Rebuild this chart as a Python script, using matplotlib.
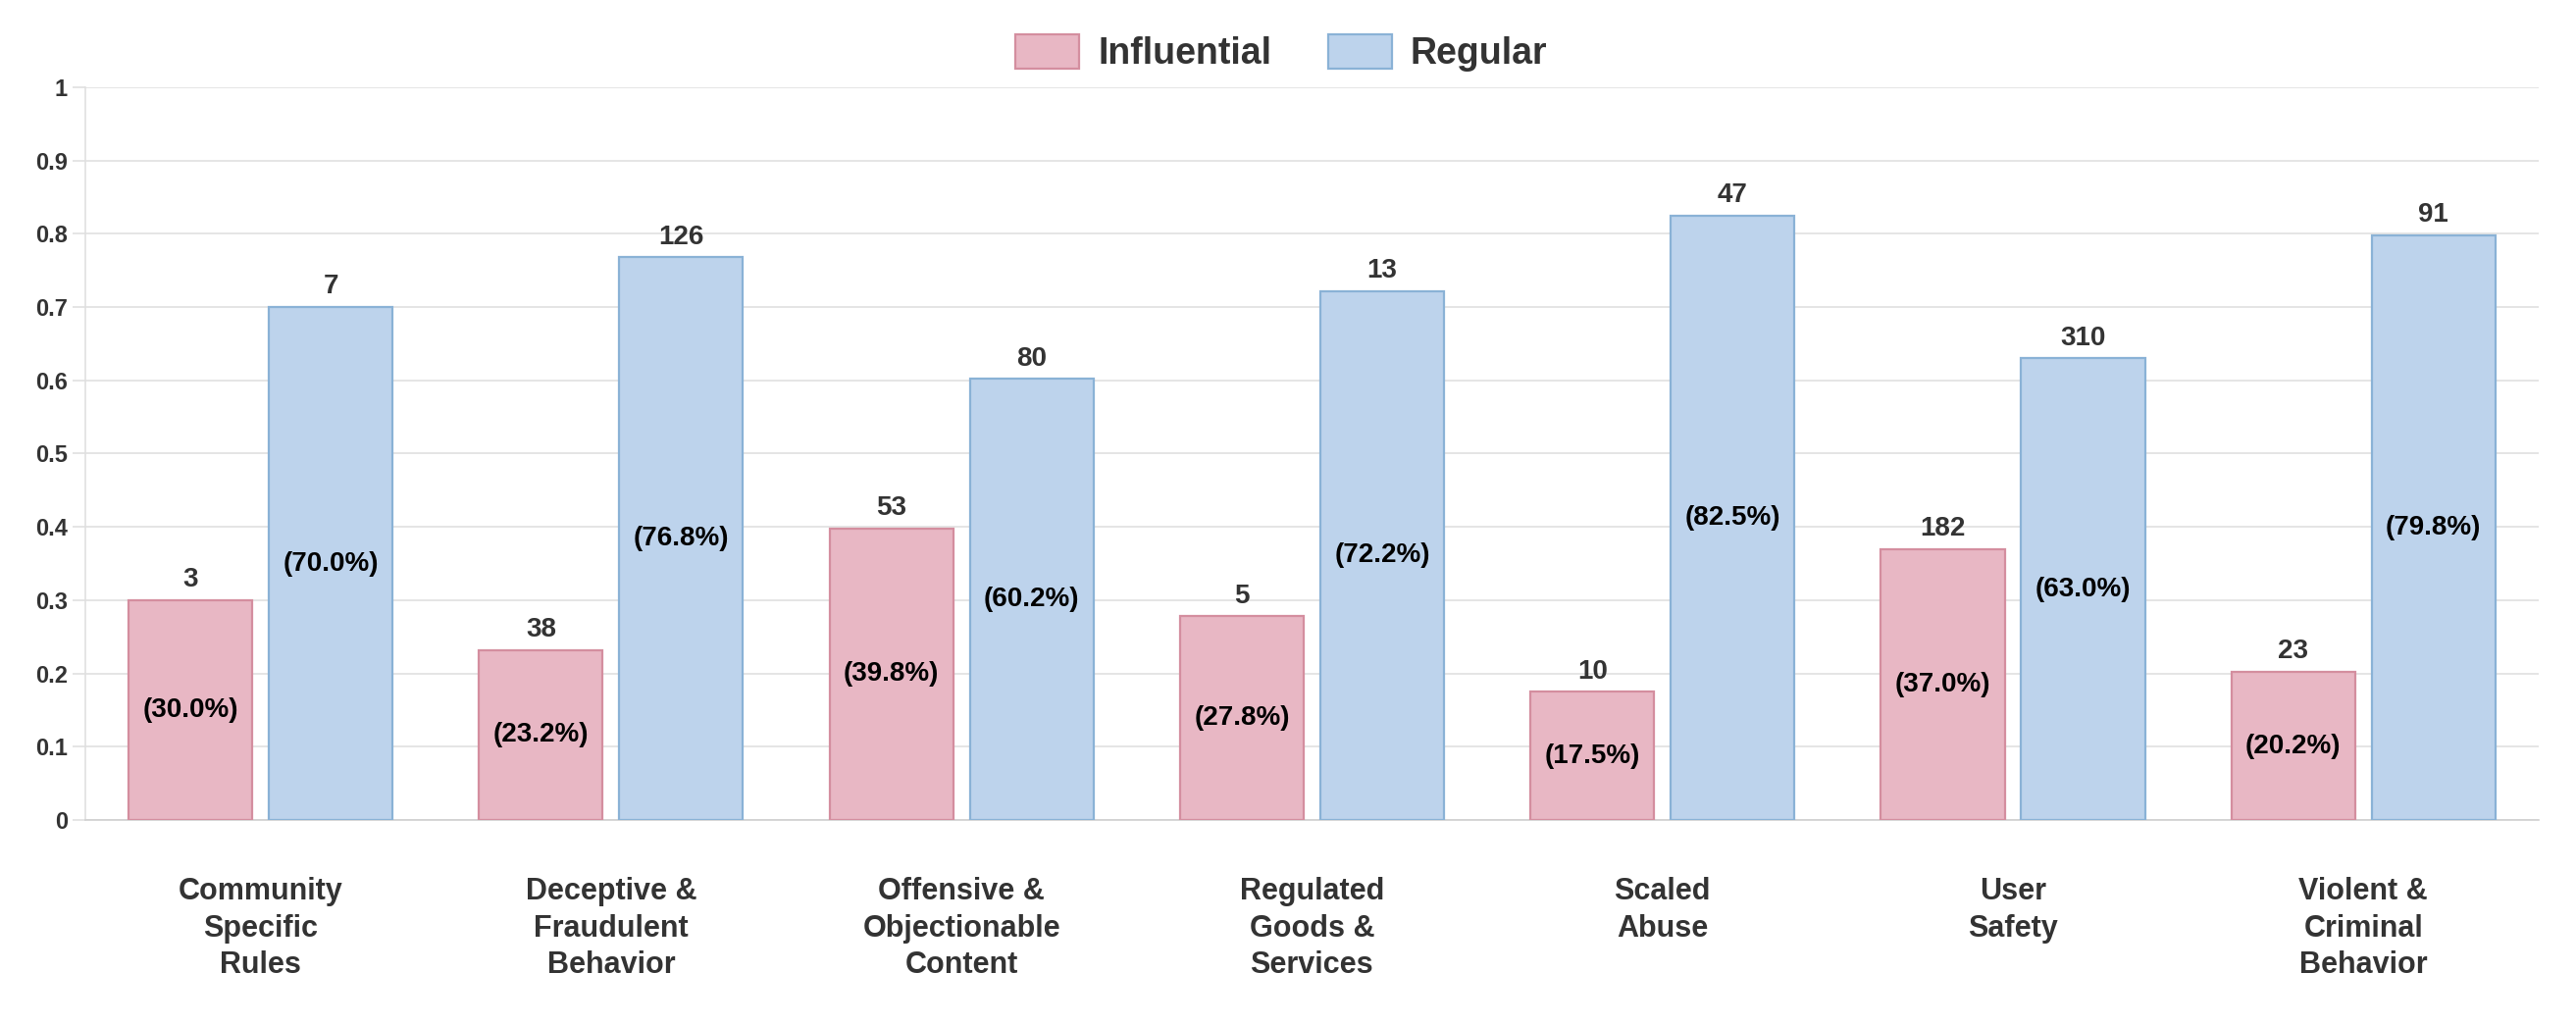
import matplotlib
matplotlib.use("Agg")
import matplotlib.pyplot as plt
import numpy as np

categories = ["Community\nSpecific\nRules", "Deceptive &\nFraudulent\nBehavior",
              "Offensive &\nObjectionable\nContent", "Regulated\nGoods &\nServices",
              "Scaled\nAbuse", "User\nSafety", "Violent &\nCriminal\nBehavior"]
influential_counts = [3, 38, 53, 5, 10, 182, 23]
regular_counts = [7, 126, 80, 13, 47, 310, 91]
influential_pct = [30.0, 23.2, 39.8, 27.8, 17.5, 37.0, 20.2]
regular_pct = [70.0, 76.8, 60.2, 72.2, 82.5, 63.0, 79.8]
yticks = [0, 0.1, 0.2, 0.3, 0.4, 0.5, 0.6, 0.7, 0.8, 0.9, 1]
ytick_labels = ["0", "0.1", "0.2", "0.3", "0.4", "0.5", "0.6", "0.7", "0.8", "0.9", "1"]

plt.rcParams['font.family'] = ['Liberation Sans', 'DejaVu Sans']

fig = plt.figure(figsize=(26.26, 10.44), dpi=100)
ax = fig.add_axes([0.0331, 0.1992, 0.9524, 0.7156])

x = np.arange(len(categories))
w = 0.353
off = 0.2
pink_fill, pink_edge = "#E8B7C4", "#D48E9F"
blue_fill, blue_edge = "#BDD3EC", "#8AB2D6"

inf_h = [p / 100 for p in influential_pct]
reg_h = [p / 100 for p in regular_pct]
b1 = ax.bar(x - off, inf_h, w, color=pink_fill, edgecolor=pink_edge, linewidth=1.6,
            label="Influential", zorder=3)
b2 = ax.bar(x + off, reg_h, w, color=blue_fill, edgecolor=blue_edge, linewidth=1.6,
            label="Regular", zorder=3)

for xi, h, c, p in zip(x - off, inf_h, influential_counts, influential_pct):
    ax.annotate(str(c), (xi, h), xytext=(0, 5.5), textcoords="offset points",
                ha="center", va="bottom", fontsize=20, fontweight="bold", color="#333333")
    ax.text(xi, h / 2, f"({p:.1f}%)", ha="center", va="center", fontsize=20,
            fontweight="bold", color="black", zorder=4)
for xi, h, c, p in zip(x + off, reg_h, regular_counts, regular_pct):
    ax.annotate(str(c), (xi, h), xytext=(0, 5.5), textcoords="offset points",
                ha="center", va="bottom", fontsize=20, fontweight="bold", color="#333333")
    ax.text(xi, h / 2, f"({p:.1f}%)", ha="center", va="center", fontsize=20,
            fontweight="bold", color="black", zorder=4)

ax.set_xlim(-0.5, len(categories) - 0.5)
ax.set_ylim(0, 1)
ax.set_yticks(yticks)
ax.set_yticklabels(ytick_labels)
ax.set_xticks(x)
ax.set_xticklabels(categories, fontsize=22, fontweight="bold", color="#333333",
                   linespacing=1.32)
ax.tick_params(axis="x", length=0, pad=42)
ax.tick_params(axis="y", length=9.4, width=1.2, color="#E0E0E0", pad=3.6,
               labelsize=17, labelcolor="#333333")
for lab in ax.get_yticklabels():
    lab.set_fontweight("bold")

ax.grid(axis="y", color="#E0E0E0", linewidth=1.2, zorder=0)
ax.set_axisbelow(True)
for s in ["top", "right"]:
    ax.spines[s].set_visible(False)
ax.spines["left"].set_color("#E0E0E0")
ax.spines["left"].set_linewidth(1.2)
ax.spines["bottom"].set_color("#D0D0D0")
ax.spines["bottom"].set_linewidth(1.2)

leg = fig.legend(handles=[b1, b2], labels=["Influential", "Regular"], loc="center",
                 bbox_to_anchor=(0.4975, 0.948), ncol=2, frameon=False,
                 prop={"size": 27, "weight": "bold"}, handlelength=1.73,
                 handleheight=1.07, handletextpad=0.5, columnspacing=1.55)
for t in leg.get_texts():
    t.set_color("#333333")

fig.savefig("out.png", dpi=100)
